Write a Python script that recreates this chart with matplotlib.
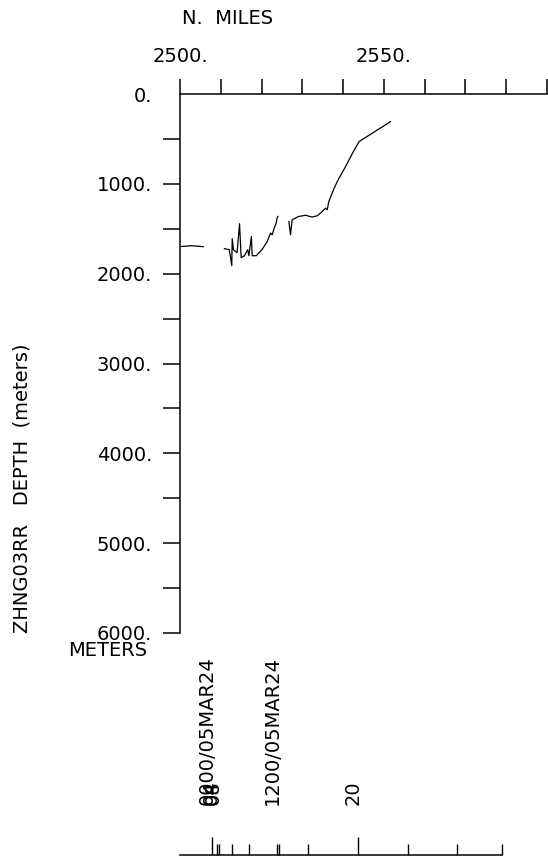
import numpy as np
import matplotlib
matplotlib.use('Agg')
import matplotlib.pyplot as plt
from matplotlib import transforms

plt.rcParams['font.family'] = ['DejaVu Sans']

# 航迹剖面数据 (N. MILES, 深度 m)，读图估计
seg1_nm = [2500.4, 2503.0, 2505.7]
seg1_depth = [1697, 1689, 1700]

seg2_nm = [2510.9, 2512.1, 2512.7, 2512.8, 2513.1, 2514.0, 2514.6, 2515.0, 2515.8,
           2516.6, 2516.9, 2517.5, 2517.7, 2518.7, 2520.1, 2521.4, 2522.2, 2522.6,
           2523.2, 2523.6, 2523.8, 2524.0]
seg2_depth = [1722, 1733, 1911, 1611, 1733, 1767, 1444, 1822, 1800,
              1733, 1800, 1585, 1800, 1800, 1733, 1641, 1548, 1567,
              1481, 1437, 1381, 1363]

seg3_nm = [2526.7, 2527.1, 2527.5, 2529.1, 2530.8, 2532.4, 2533.7, 2534.9, 2535.7,
           2536.1, 2536.5, 2537.8, 2538.2, 2539.0, 2540.6, 2542.3, 2543.9, 2551.6]
seg3_depth = [1419, 1567, 1400, 1363, 1350, 1370, 1355, 1308, 1270,
              1289, 1197, 1048, 1011, 937, 808, 659, 530, 308]

# 顶部距离轴
top_ticks = list(range(2500, 2600, 10))
top_labels = ['2500.', '', '', '', '', '2550.', '', '', '', '']
# 左侧深度轴
depth_ticks = list(range(0, 6500, 500))
depth_labels = ['0.' if d == 0 else (str(d) + '.' if d % 1000 == 0 else '') for d in depth_ticks]

# 底部时间轴 (位置以 N. MILES 表示)
time_major = [2507.9, 2543.6]
time_minor = [2509.0, 2509.5, 2512.7, 2517.0, 2523.9, 2524.2, 2531.5, 2555.8, 2567.9, 2579.0]
time_label_pos = [2507.9, 2509.0, 2509.5, 2523.9, 2543.6]
time_label_txt = ['0000/05MAR24', '04', '08', '1200/05MAR24', '20']
time_axis_end = 2579.0

W, H = 548, 857
fig = plt.figure(figsize=(W / 100, H / 100), dpi=100)
fs = 14

ax = fig.add_axes([180 / W, 1 - 633 / H, (547 - 180) / W, (633 - 94) / H])
for a, b in [(seg1_nm, seg1_depth), (seg2_nm, seg2_depth), (seg3_nm, seg3_depth)]:
    ax.plot(a, b, color='black', lw=0.9)
ax.set_xlim(2500, 2590)
ax.set_ylim(6000, 0)
ax.spines['right'].set_visible(False)
ax.spines['bottom'].set_visible(False)
ax.spines['left'].set_linewidth(1.1)
ax.spines['top'].set_linewidth(1.1)
ax.xaxis.tick_top()
ax.set_xticks(top_ticks)
ax.set_xticklabels(top_labels, fontsize=fs)
ax.tick_params(axis='x', direction='out', length=10.5, width=1.1, pad=10)
ax.set_yticks(depth_ticks[1:])
ax.set_yticklabels(depth_labels[1:], fontsize=fs)
ax.tick_params(axis='y', direction='out', length=12, width=1.1, pad=8)
fig.text(152 / W, 1 - 97 / H, '0.', fontsize=fs, ha='right', va='center')

fig.text(182 / W, 1 - 18 / H, 'N.  MILES', fontsize=fs, ha='left', va='center')
fig.text(147 / W, 1 - 651 / H, 'METERS', fontsize=fs, ha='right', va='center')
fig.text(22 / W, 1 - 633 / H, 'ZHNG03RR   DEPTH  (meters)', fontsize=fs,
         rotation=90, ha='center', va='bottom')

# 底部时间轴
ax2 = fig.add_axes([180 / W, 1 - 855 / H, (547 - 180) / W, 0.0001])
ax2.set_xlim(2500, 2590)
for s in ax2.spines.values():
    s.set_visible(False)
ax2.set_yticks([])
ax2.plot([2500, time_axis_end], [0, 0], color='black', lw=1.1, clip_on=False)
ax2.set_xticks(time_major)
ax2.set_xticks(time_minor, minor=True)
ax2.set_xticklabels([])
ax2.tick_params(axis='x', which='major', direction='in', length=13, width=1.0)
ax2.tick_params(axis='x', which='minor', direction='in', length=8, width=1.0)
trans = transforms.offset_copy(ax2.get_xaxis_transform(), fig=fig, x=-5, y=50, units='dots')
for p, t in zip(time_label_pos, time_label_txt):
    ax2.text(p, 0, t, transform=trans, rotation=90, fontsize=fs,
             ha='center', va='bottom')

fig.savefig('out.png', dpi=100)
